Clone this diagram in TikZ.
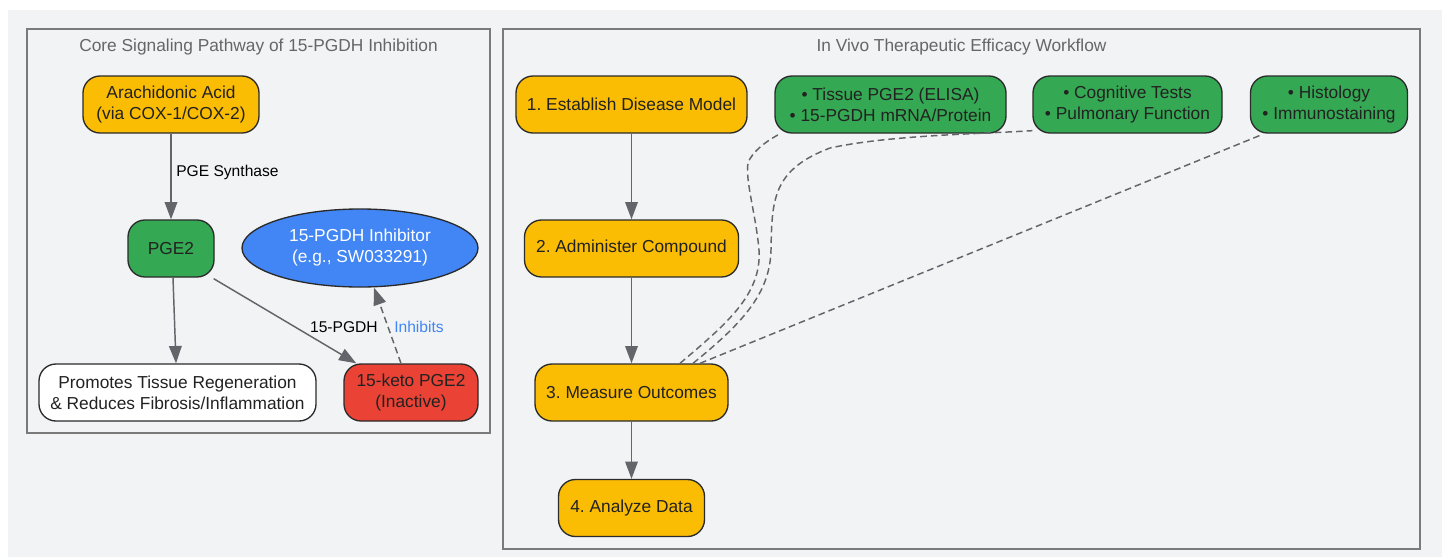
\documentclass[tikz,border=0pt]{standalone}
\usepackage{fontspec}
\setmainfont{Liberation Sans}
\usetikzlibrary{shapes.geometric,arrows.meta,calc}
\definecolor{bgc}{HTML}{F2F3F5}
\definecolor{clusterc}{HTML}{7A7A7A}
\definecolor{titlec}{HTML}{666666}
\definecolor{edgec}{HTML}{63656A}
\definecolor{borderc}{HTML}{2B2B2B}
\definecolor{txtc}{HTML}{222222}
\definecolor{yel}{HTML}{FBBC04}
\definecolor{grn}{HTML}{34A853}
\definecolor{redc}{HTML}{EA4335}
\definecolor{bluc}{HTML}{4285F4}
\newcommand{\mynodefont}{\fontsize{13}{15.75}\selectfont}
\newcommand{\mylabelfont}{\fontsize{11.7}{14}\selectfont}
\frenchspacing
\begin{document}
\begin{tikzpicture}[x=0.75pt,y=-0.75pt,
  box/.style={draw=borderc, line width=1pt, rounded corners=12.75pt, inner sep=0pt,
    align=center, font=\mynodefont, text=txtc, minimum height=42.75pt},
  cluster/.style={draw=clusterc, line width=1.2pt},
  ctitle/.style={font=\mynodefont, text=titlec, inner sep=0pt},
  elabel/.style={font=\mylabelfont, text=black, inner sep=0pt},
  flow/.style={draw=edgec, line width=1.1pt, -{Triangle[length=13pt,width=9.5pt]}},
  dflow/.style={draw=edgec, line width=1.1pt, dash pattern=on 5pt off 3pt},
]
\useasboundingbox (0,0) rectangle (1442,557);
\fill[white] (0,0) rectangle (1442,557);
\fill[bgc] (8,10) rectangle (1442,557);

% clusters
\draw[cluster] (27,29) rectangle (490,433);
\draw[cluster] (503,29) rectangle (1420,549);
\node[ctitle] (t1) at (258.5,47.5) {Core Signaling Pathway of 15-PGDH Inhibition};
\node[ctitle] (t2) at (961.5,47.5) {In Vivo Therapeutic Efficacy Workflow};

% left cluster nodes
\node[box, fill=yel, minimum width=132pt] (aa) at (171,104.5) {Arachidonic Acid\\(via COX-1/COX-2)};
\node[box, fill=grn, minimum width=64.5pt] (pge) at (171,248.5) {PGE2};
\node[ellipse, draw=borderc, line width=1pt, fill=bluc, inner sep=0pt, minimum width=177pt,
  minimum height=58.5pt, align=center, font=\mynodefont, text=white] (inh) at (360,248)
  {15-PGDH Inhibitor\\(e.g., SW033291)};
\node[box, fill=white, minimum width=207.75pt] (prom) at (177.5,392.5)
  {Promotes Tissue Regeneration\\\& Reduces Fibrosis/Inflammation};
\node[box, fill=redc, minimum width=100.5pt] (keto) at (411,392.5) {15-keto PGE2\\(Inactive)};

% left edges
\draw[flow] (aa.south) -- (pge.north);
\node[elabel, anchor=west] (l1) at (176,172) {PGE Synthase};
\draw[flow] ($(pge.south)+(2,0)$) -- ($(prom.north)+(-1.5,0)$);
\draw[flow] ($(pge.south east)+(-1,1)$) -- ($(keto.north west)+(13,0)$);
\node[elabel, anchor=east] (l2) at (378,327) {15-PGDH};
\draw[dflow, -{Triangle[length=13pt,width=9.5pt]}] ($(keto.north)+(-10,0)$) -- ($(inh.south)+(14,0)$);
\node[elabel, anchor=west, text=bluc] (l3) at (394,327) {Inhibits};

% right cluster nodes
\node[box, fill=yel, minimum width=173.25pt] (n1) at (631.5,104.5) {1. Establish Disease Model};
\node[box, fill=yel, minimum width=160.5pt] (n2) at (631.5,248.5) {2. Administer Compound};
\node[box, fill=yel, minimum width=144.75pt] (n3) at (631.5,392.5) {3. Measure Outcomes};
\node[box, fill=yel, minimum width=109.5pt] (n4) at (631.5,508) {4. Analyze Data};
\node[box, fill=grn, minimum width=173.25pt] (ga) at (890.5,104.5) {• Tissue PGE2 (ELISA)\\• 15-PGDH mRNA/Protein};
\node[box, fill=grn, minimum width=141.75pt] (gb) at (1127.5,104.5) {• Cognitive Tests\\• Pulmonary Function};
\node[box, fill=grn, minimum width=117.75pt] (gc) at (1329,104.5) {• Histology\\• Immunostaining};

% right edges
\draw[flow] (n1.south) -- (n2.north);
\draw[flow] (n2.south) -- (n3.north);
\draw[flow] (n3.south) -- (n4.north);

\draw[dflow] ($(n3.north)+(48.5,0)$) .. controls (725,325) and (762,295) .. (759,250)
  .. controls (756,215) and (745,180) .. (748,163)
  .. controls (752,152) and (765,142) .. ($(ga.south west)+(4,1)$);
\draw[dflow] ($(n3.north)+(61.5,0)$) .. controls (740,325) and (770,295) .. (771,250)
  .. controls (772,200) and (772,170) .. (830,148)
  .. controls (890,135) and (980,134) .. ($(gb.south west)+(0,-3)$);
\draw[dflow] ($(n3.north)+(68.5,0)$) -- ($(gc.south west)+(12,1)$);
\end{tikzpicture}
\end{document}
